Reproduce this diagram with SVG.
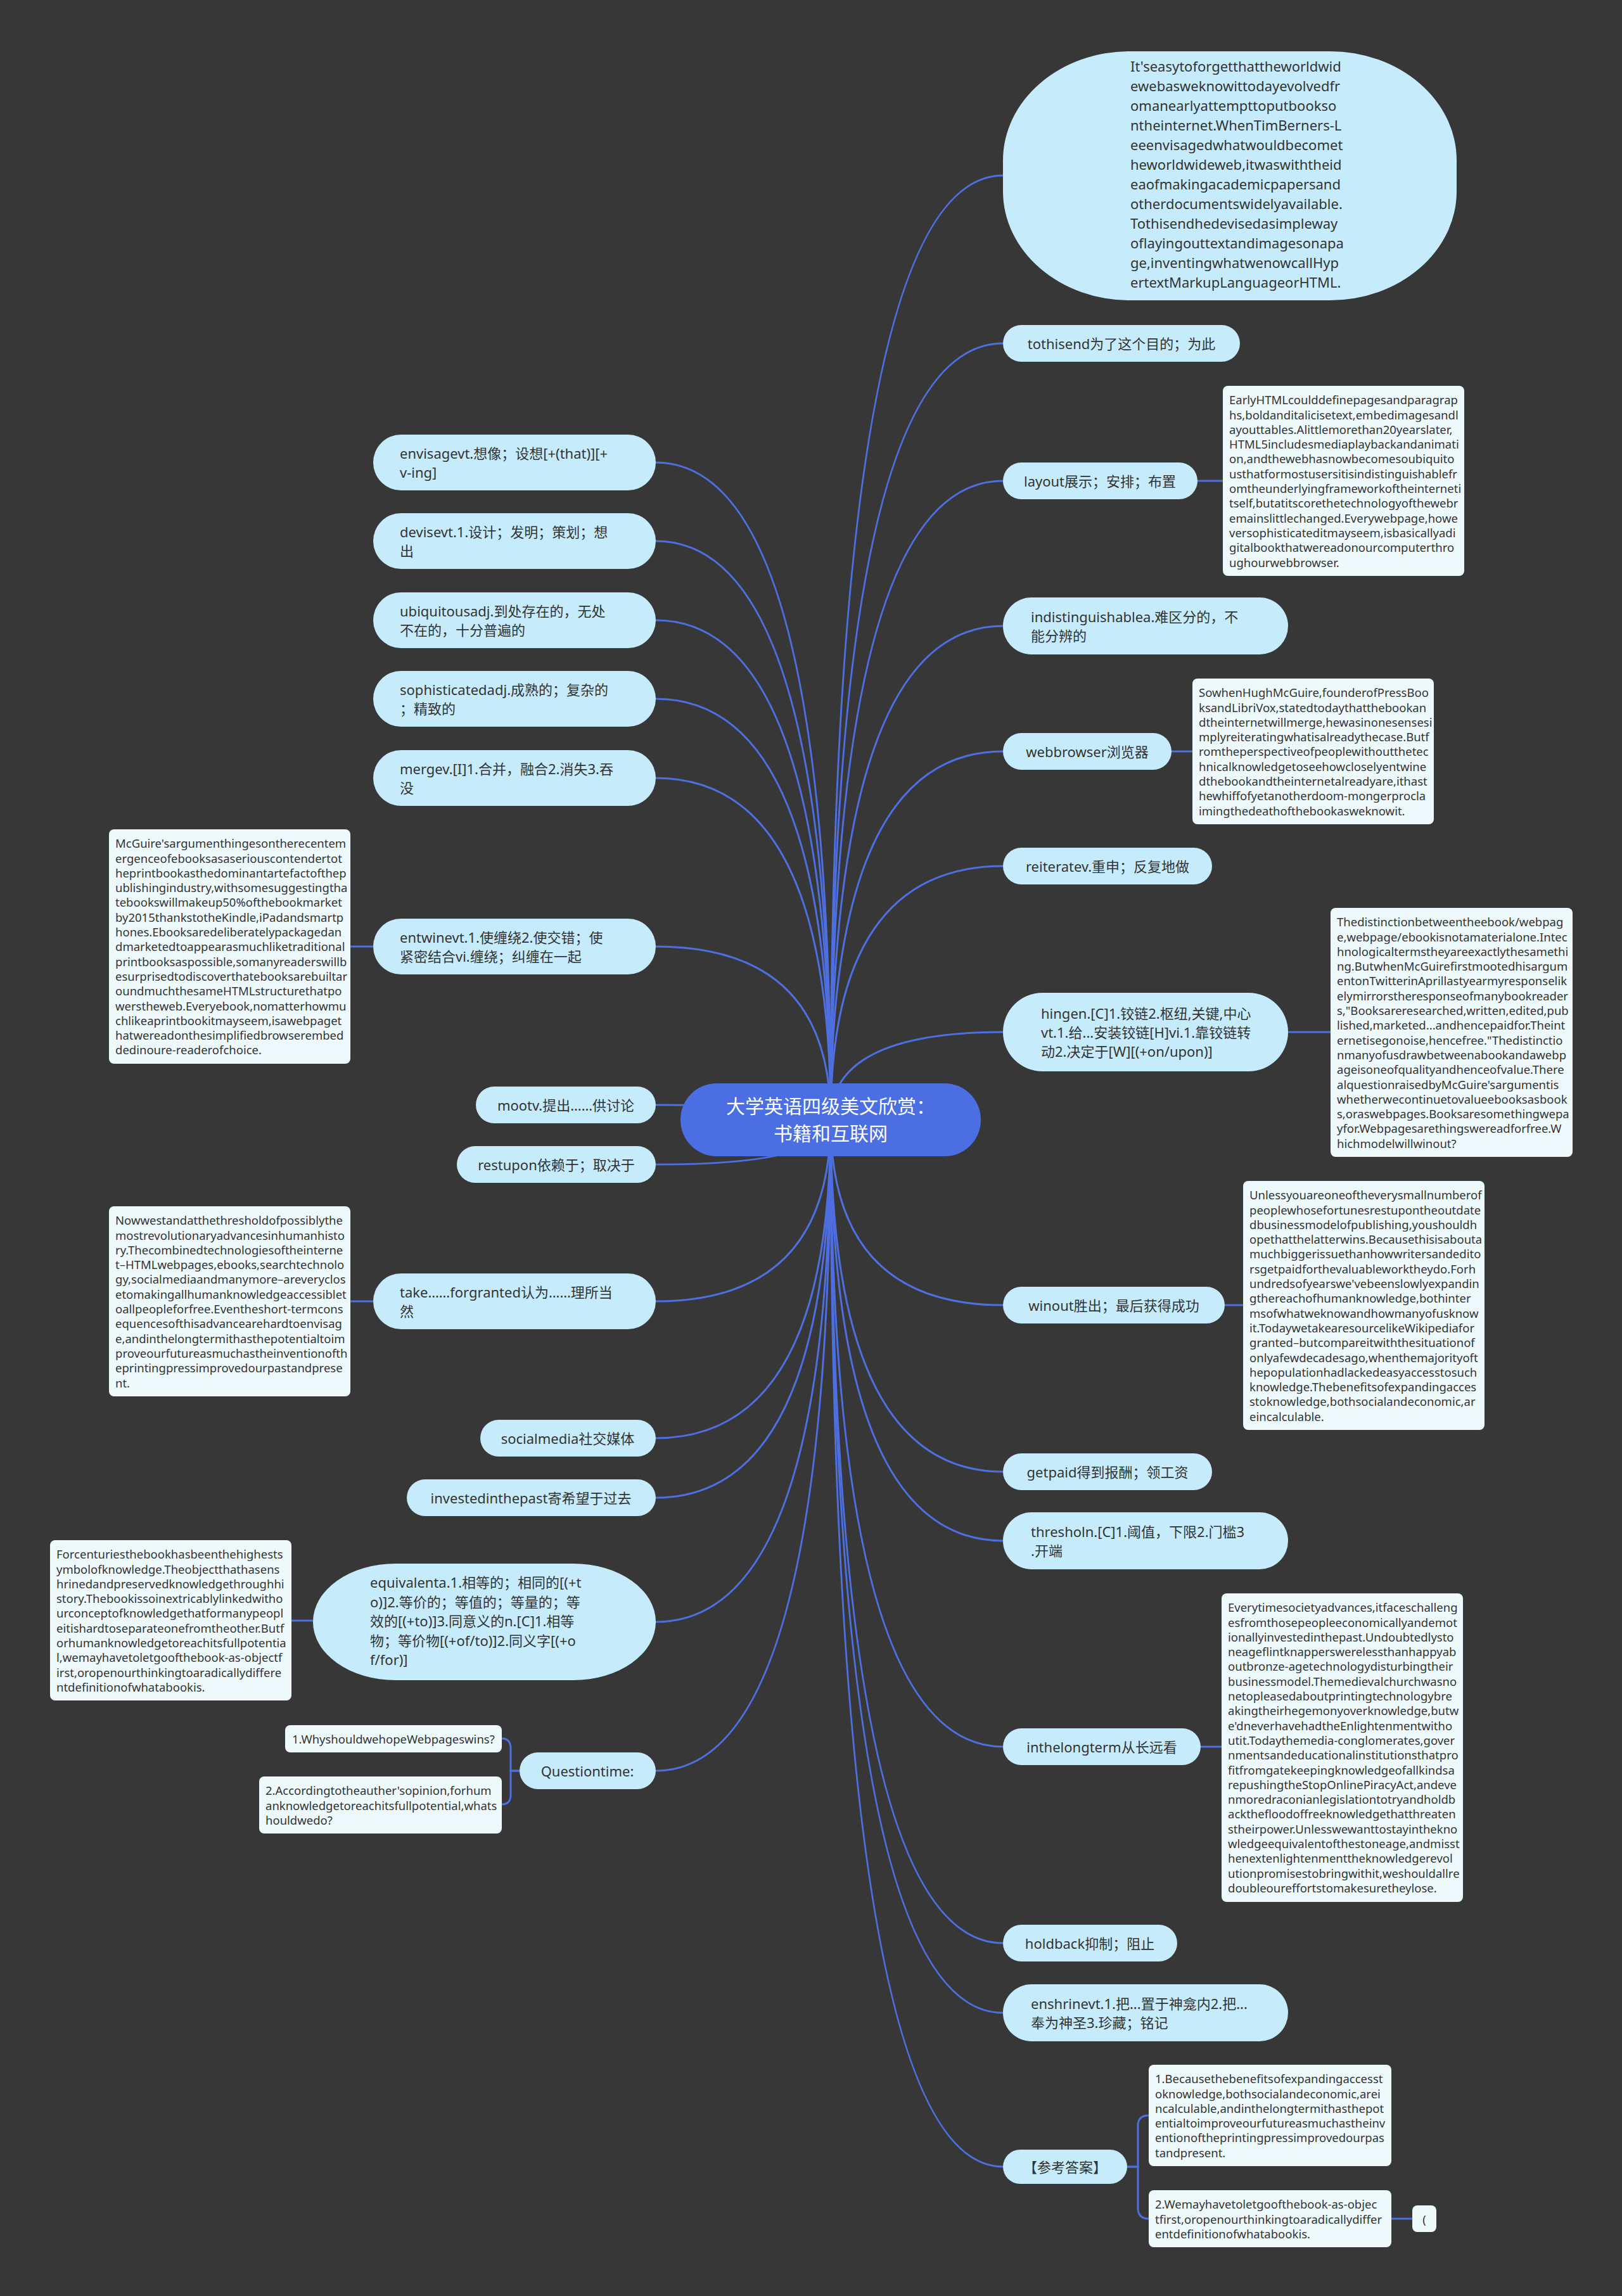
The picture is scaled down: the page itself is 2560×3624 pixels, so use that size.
<svg xmlns="http://www.w3.org/2000/svg" width="2560" height="3624" viewBox="0 0 2560 3624">
<style>
.bg{fill:#373737}
.ln{fill:none;stroke:#4d6fe0;stroke-width:3}
.nd{fill:#c6ecfb}
.nb{fill:#eef9fc}
.ct{fill:#4b6fe2}
text{font-family:"Noto Sans","Noto Sans CJK SC",sans-serif;fill:#333333;dominant-baseline:central}
.t{font-size:22px}
.n{font-size:18.5px}
.c{font-size:30px;fill:#ffffff;text-anchor:middle}
.m{text-anchor:middle}
</style>
<rect class="bg" x="0" y="0" width="2560" height="3624"/>
<g id="connectors">
<path class="ln" d="M1311 1767 Q1311 277 1583 277"/>
<path class="ln" d="M1311 1767 Q1311 542 1583 542"/>
<path class="ln" d="M1311 1767 Q1311 759 1583 759"/>
<path class="ln" d="M1311 1767 Q1311 988 1583 988"/>
<path class="ln" d="M1311 1767 Q1311 1186 1583 1186"/>
<path class="ln" d="M1311 1767 Q1311 1367 1583 1367"/>
<path class="ln" d="M1311 1767 Q1311 1629 1583 1629"/>
<path class="ln" d="M1311 1767 Q1311 2060 1583 2060"/>
<path class="ln" d="M1311 1767 Q1311 2323 1583 2323"/>
<path class="ln" d="M1311 1767 Q1311 2432 1583 2432"/>
<path class="ln" d="M1311 1767 Q1311 2757 1583 2757"/>
<path class="ln" d="M1311 1767 Q1311 3067 1583 3067"/>
<path class="ln" d="M1311 1767 Q1311 3177 1583 3177"/>
<path class="ln" d="M1311 1767 Q1311 3420 1583 3420"/>
<path class="ln" d="M1311 1767 Q1311 730 1035 730"/>
<path class="ln" d="M1311 1767 Q1311 854 1035 854"/>
<path class="ln" d="M1311 1767 Q1311 979 1035 979"/>
<path class="ln" d="M1311 1767 Q1311 1103 1035 1103"/>
<path class="ln" d="M1311 1767 Q1311 1228 1035 1228"/>
<path class="ln" d="M1311 1767 Q1311 1494 1035 1494"/>
<path class="ln" d="M1311 1767 Q1311 1744 1035 1744"/>
<path class="ln" d="M1311 1767 Q1311 1838 1035 1838"/>
<path class="ln" d="M1311 1767 Q1311 2054 1035 2054"/>
<path class="ln" d="M1311 1767 Q1311 2270 1035 2270"/>
<path class="ln" d="M1311 1767 Q1311 2364 1035 2364"/>
<path class="ln" d="M1311 1767 Q1311 2560 1035 2560"/>
<path class="ln" d="M1311 1767 Q1311 2795 1035 2795"/>
<path class="ln" d="M1890 759 H1930"/>
<path class="ln" d="M1849 1186 H1882"/>
<path class="ln" d="M2033 1629 H2100"/>
<path class="ln" d="M1933 2060 H1962"/>
<path class="ln" d="M1895 2757 H1928"/>
<path class="ln" d="M553 1494 H589"/>
<path class="ln" d="M553 2054 H589"/>
<path class="ln" d="M460 2558 H494"/>
<path class="ln" d="M820 2795 H806 V2760 Q806 2744 792 2744"/>
<path class="ln" d="M820 2795 H806 V2833 Q806 2848 792 2848"/>
<path class="ln" d="M1779 3420 H1796 V3355 Q1796 3339 1813 3339"/>
<path class="ln" d="M1779 3420 H1796 V3485 Q1796 3502 1813 3502"/>
<path class="ln" d="M2196 3502 H2229"/>
</g>
<g id="center">
<rect class="ct" x="1074" y="1710" width="474" height="115" rx="57"/>
<text class="c" x="1311" y="1745">大学英语四级美文欣赏：</text>
<text class="c" x="1311" y="1788">书籍和互联网</text>
</g>
<g id="r1">
<rect class="nd" x="1583" y="81" width="716" height="393" rx="200" ry="172"/>
<text class="t" x="1784" y="104">It'seasytoforgetthattheworldwid</text>
<text class="t" x="1784" y="135">ewebasweknowittodayevolvedfr</text>
<text class="t" x="1784" y="166">omanearlyattempttoputbookso</text>
<text class="t" x="1784" y="197">ntheinternet.WhenTimBerners-L</text>
<text class="t" x="1784" y="228">eeenvisagedwhatwouldbecomet</text>
<text class="t" x="1784" y="259">heworldwideweb,itwaswiththeid</text>
<text class="t" x="1784" y="290">eaofmakingacademicpapersand</text>
<text class="t" x="1784" y="321">otherdocumentswidelyavailable.</text>
<text class="t" x="1784" y="352">Tothisendhedevisedasimpleway</text>
<text class="t" x="1784" y="383">oflayingouttextandimagesonapa</text>
<text class="t" x="1784" y="414">ge,inventingwhatwenowcallHyp</text>
<text class="t" x="1784" y="445">ertextMarkupLanguageorHTML.</text>
</g>
<g id="r2">
<rect class="nd" x="1583" y="513" width="374" height="58" rx="29"/>
<text class="t m" x="1770" y="542">tothisend为了这个目的；为此</text>
</g>
<g id="r3">
<rect class="nd" x="1583" y="730" width="307" height="58" rx="29"/>
<text class="t m" x="1736" y="759">layout展示；安排；布置</text>
</g>
<g id="r3note">
<rect class="nb" x="1930" y="609" width="381" height="300" rx="8"/>
<text class="n" x="1940" y="630.7">EarlyHTMLcoulddefinepagesandparagrap</text>
<text class="n" x="1940" y="654">hs,boldanditalicisetext,embedimagesandl</text>
<text class="n" x="1940" y="677.3">ayouttables.Alittlemorethan20yearslater,</text>
<text class="n" x="1940" y="700.6">HTML5includesmediaplaybackandanimati</text>
<text class="n" x="1940" y="723.9">on,andthewebhasnowbecomesoubiquito</text>
<text class="n" x="1940" y="747.2">usthatformostusersitisindistinguishablefr</text>
<text class="n" x="1940" y="770.5">omtheunderlyingframeworkoftheinterneti</text>
<text class="n" x="1940" y="793.8">tself,butatitscorethetechnologyofthewebr</text>
<text class="n" x="1940" y="817.1">emainslittlechanged.Everywebpage,howe</text>
<text class="n" x="1940" y="840.4">versophisticateditmayseem,isbasicallyadi</text>
<text class="n" x="1940" y="863.7">gitalbookthatwereadonourcomputerthro</text>
<text class="n" x="1940" y="887">ughourwebbrowser.</text>
</g>
<g id="r4">
<rect class="nd" x="1583" y="943" width="450" height="90" rx="45"/>
<text class="t" x="1627" y="973">indistinguishablea.难区分的，不</text>
<text class="t" x="1627" y="1003">能分辨的</text>
</g>
<g id="r5">
<rect class="nd" x="1583" y="1157" width="266" height="58" rx="29"/>
<text class="t m" x="1716" y="1186">webbrowser浏览器</text>
</g>
<g id="r5note">
<rect class="nb" x="1882" y="1071" width="381" height="230" rx="8"/>
<text class="n" x="1892" y="1092.7">SowhenHughMcGuire,founderofPressBoo</text>
<text class="n" x="1892" y="1116">ksandLibriVox,statedtodaythatthebookan</text>
<text class="n" x="1892" y="1139.3">dtheinternetwillmerge,hewasinonesensesi</text>
<text class="n" x="1892" y="1162.6">mplyreiteratingwhatisalreadythecase.Butf</text>
<text class="n" x="1892" y="1185.9">romtheperspectiveofpeoplewithoutthetec</text>
<text class="n" x="1892" y="1209.2">hnicalknowledgetoseehowcloselyentwine</text>
<text class="n" x="1892" y="1232.5">dthebookandtheinternetalreadyare,ithast</text>
<text class="n" x="1892" y="1255.8">hewhiffofyetanotherdoom-mongerprocla</text>
<text class="n" x="1892" y="1279.1">imingthedeathofthebookasweknowit.</text>
</g>
<g id="r6">
<rect class="nd" x="1583" y="1338" width="330" height="58" rx="29"/>
<text class="t m" x="1748" y="1367">reiteratev.重申；反复地做</text>
</g>
<g id="r7">
<rect class="nd" x="1583" y="1567" width="450" height="124" rx="62"/>
<text class="t" x="1643" y="1599">hingen.[C]1.铰链2.枢纽,关键,中心</text>
<text class="t" x="1643" y="1629">vt.1.给...安装铰链[H]vi.1.靠铰链转</text>
<text class="t" x="1643" y="1659">动2.决定于[W][(+on/upon)]</text>
</g>
<g id="r7note">
<rect class="nb" x="2100" y="1433" width="382" height="393" rx="8"/>
<text class="n" x="2110" y="1454.7">Thedistinctionbetweentheebook/webpag</text>
<text class="n" x="2110" y="1478">e,webpage/ebookisnotamaterialone.Intec</text>
<text class="n" x="2110" y="1501.3">hnologicaltermstheyareexactlythesamethi</text>
<text class="n" x="2110" y="1524.6">ng.ButwhenMcGuirefirstmootedhisargum</text>
<text class="n" x="2110" y="1547.9">entonTwitterinAprillastyearmyresponselik</text>
<text class="n" x="2110" y="1571.2">elymirrorstheresponseofmanybookreader</text>
<text class="n" x="2110" y="1594.5">s,"Booksareresearched,written,edited,pub</text>
<text class="n" x="2110" y="1617.8">lished,marketed...andhencepaidfor.Theint</text>
<text class="n" x="2110" y="1641.1">ernetisegonoise,hencefree."Thedistinctio</text>
<text class="n" x="2110" y="1664.4">nmanyofusdrawbetweenabookandawebp</text>
<text class="n" x="2110" y="1687.7">ageisoneofqualityandhenceofvalue.There</text>
<text class="n" x="2110" y="1711">alquestionraisedbyMcGuire'sargumentis</text>
<text class="n" x="2110" y="1734.3">whetherwecontinuetovalueebooksasbook</text>
<text class="n" x="2110" y="1757.6">s,oraswebpages.Booksaresomethingwepa</text>
<text class="n" x="2110" y="1780.9">yfor.Webpagesarethingswereadforfree.W</text>
<text class="n" x="2110" y="1804.2">hichmodelwillwinout?</text>
</g>
<g id="r8">
<rect class="nd" x="1583" y="2031" width="350" height="58" rx="29"/>
<text class="t m" x="1758" y="2060">winout胜出；最后获得成功</text>
</g>
<g id="r8note">
<rect class="nb" x="1962" y="1864" width="381" height="393" rx="8"/>
<text class="n" x="1972" y="1885.7">Unlessyouareoneoftheverysmallnumberof</text>
<text class="n" x="1972" y="1909">peoplewhosefortunesrestupontheoutdate</text>
<text class="n" x="1972" y="1932.3">dbusinessmodelofpublishing,youshouldh</text>
<text class="n" x="1972" y="1955.6">opethatthelatterwins.Becausethisisabouta</text>
<text class="n" x="1972" y="1978.9">muchbiggerissuethanhowwritersandedito</text>
<text class="n" x="1972" y="2002.2">rsgetpaidforthevaluableworktheydo.Forh</text>
<text class="n" x="1972" y="2025.5">undredsofyearswe'vebeenslowlyexpandin</text>
<text class="n" x="1972" y="2048.8">gthereachofhumanknowledge,bothinter</text>
<text class="n" x="1972" y="2072.1">msofwhatweknowandhowmanyofusknow</text>
<text class="n" x="1972" y="2095.4">it.TodaywetakearesourcelikeWikipediafor</text>
<text class="n" x="1972" y="2118.7">granted–butcompareitwiththesituationof</text>
<text class="n" x="1972" y="2142">onlyafewdecadesago,whenthemajorityoft</text>
<text class="n" x="1972" y="2165.3">hepopulationhadlackedeasyaccesstosuch</text>
<text class="n" x="1972" y="2188.6">knowledge.Thebenefitsofexpandingacces</text>
<text class="n" x="1972" y="2211.9">stoknowledge,bothsocialandeconomic,ar</text>
<text class="n" x="1972" y="2235.2">eincalculable.</text>
</g>
<g id="r9">
<rect class="nd" x="1583" y="2294" width="330" height="58" rx="29"/>
<text class="t m" x="1748" y="2323">getpaid得到报酬；领工资</text>
</g>
<g id="r10">
<rect class="nd" x="1583" y="2387" width="450" height="90" rx="45"/>
<text class="t" x="1627" y="2417">thresholn.[C]1.阈值，下限2.门槛3</text>
<text class="t" x="1627" y="2447">.开端</text>
</g>
<g id="r11">
<rect class="nd" x="1583" y="2728" width="312" height="58" rx="29"/>
<text class="t m" x="1739" y="2757">inthelongterm从长远看</text>
</g>
<g id="r11note">
<rect class="nb" x="1928" y="2515" width="381" height="487" rx="8"/>
<text class="n" x="1938" y="2536.7">Everytimesocietyadvances,itfaceschalleng</text>
<text class="n" x="1938" y="2560">esfromthosepeopleeconomicallyandemot</text>
<text class="n" x="1938" y="2583.3">ionallyinvestedinthepast.Undoubtedlysto</text>
<text class="n" x="1938" y="2606.6">neageflintknapperswerelessthanhappyab</text>
<text class="n" x="1938" y="2629.9">outbronze-agetechnologydisturbingtheir</text>
<text class="n" x="1938" y="2653.2">businessmodel.Themedievalchurchwasno</text>
<text class="n" x="1938" y="2676.5">netopleasedaboutprintingtechnologybre</text>
<text class="n" x="1938" y="2699.8">akingtheirhegemonyoverknowledge,butw</text>
<text class="n" x="1938" y="2723.1">e'dneverhavehadtheEnlightenmentwitho</text>
<text class="n" x="1938" y="2746.4">utit.Todaythemedia-conglomerates,gover</text>
<text class="n" x="1938" y="2769.7">nmentsandeducationalinstitutionsthatpro</text>
<text class="n" x="1938" y="2793">fitfromgatekeepingknowledgeofallkindsa</text>
<text class="n" x="1938" y="2816.3">repushingtheStopOnlinePiracyAct,andeve</text>
<text class="n" x="1938" y="2839.6">nmoredraconianlegislationtotryandholdb</text>
<text class="n" x="1938" y="2862.9">ackthefloodoffreeknowledgethatthreaten</text>
<text class="n" x="1938" y="2886.2">stheirpower.Unlesswewanttostayinthekno</text>
<text class="n" x="1938" y="2909.5">wledgeequivalentofthestoneage,andmisst</text>
<text class="n" x="1938" y="2932.8">henextenlightenmenttheknowledgerevol</text>
<text class="n" x="1938" y="2956.1">utionpromisestobringwithit,weshouldallre</text>
<text class="n" x="1938" y="2979.4">doubleoureffortstomakesuretheylose.</text>
</g>
<g id="r12">
<rect class="nd" x="1583" y="3038" width="275" height="58" rx="29"/>
<text class="t m" x="1720" y="3067">holdback抑制；阻止</text>
</g>
<g id="r13">
<rect class="nd" x="1583" y="3132" width="450" height="90" rx="45"/>
<text class="t" x="1627" y="3162">enshrinevt.1.把...置于神龛内2.把...</text>
<text class="t" x="1627" y="3192">奉为神圣3.珍藏；铭记</text>
</g>
<g id="r14">
<rect class="nd" x="1583" y="3393" width="196" height="54" rx="27"/>
<text class="t m" x="1681" y="3420">【参考答案】</text>
</g>
<g id="ans1">
<rect class="nb" x="1813" y="3259" width="383" height="160" rx="8"/>
<text class="n" x="1823" y="3280.7">1.Becausethebenefitsofexpandingaccesst</text>
<text class="n" x="1823" y="3304">oknowledge,bothsocialandeconomic,arei</text>
<text class="n" x="1823" y="3327.3">ncalculable,andinthelongtermithasthepot</text>
<text class="n" x="1823" y="3350.6">entialtoimproveourfutureasmuchastheinv</text>
<text class="n" x="1823" y="3373.9">entionoftheprintingpressimprovedourpas</text>
<text class="n" x="1823" y="3397.2">tandpresent.</text>
</g>
<g id="ans2">
<rect class="nb" x="1813" y="3457" width="383" height="90" rx="8"/>
<text class="n" x="1823" y="3478.7">2.Wemayhavetoletgoofthebook-as-objec</text>
<text class="n" x="1823" y="3502">tfirst,oropenourthinkingtoaradicallydiffer</text>
<text class="n" x="1823" y="3525.3">entdefinitionofwhatabookis.</text>
</g>
<g id="ans3">
<rect class="nb" x="2229" y="3481" width="38" height="42" rx="8"/>
<text class="n m" x="2248" y="3502">(</text>
</g>
<g id="l1">
<rect class="nd" x="589" y="686" width="446" height="88" rx="44"/>
<text class="t" x="631" y="715">envisagevt.想像；设想[+(that)][+</text>
<text class="t" x="631" y="745">v-ing]</text>
</g>
<g id="l2">
<rect class="nd" x="589" y="810" width="446" height="88" rx="44"/>
<text class="t" x="631" y="839">devisevt.1.设计；发明；策划；想</text>
<text class="t" x="631" y="869">出</text>
</g>
<g id="l3">
<rect class="nd" x="589" y="935" width="446" height="88" rx="44"/>
<text class="t" x="631" y="964">ubiquitousadj.到处存在的，无处</text>
<text class="t" x="631" y="994">不在的，十分普遍的</text>
</g>
<g id="l4">
<rect class="nd" x="589" y="1059" width="446" height="88" rx="44"/>
<text class="t" x="631" y="1088">sophisticatedadj.成熟的；复杂的</text>
<text class="t" x="631" y="1118">；精致的</text>
</g>
<g id="l5">
<rect class="nd" x="589" y="1184" width="446" height="88" rx="44"/>
<text class="t" x="631" y="1213">mergev.[I]1.合并，融合2.消失3.吞</text>
<text class="t" x="631" y="1243">没</text>
</g>
<g id="l6">
<rect class="nd" x="589" y="1450" width="446" height="88" rx="44"/>
<text class="t" x="631" y="1479">entwinevt.1.使缠绕2.使交错；使</text>
<text class="t" x="631" y="1509">紧密结合vi.缠绕；纠缠在一起</text>
</g>
<g id="l6note">
<rect class="nb" x="172" y="1309" width="381" height="370" rx="8"/>
<text class="n" x="182" y="1330.7">McGuire'sargumenthingesontherecentem</text>
<text class="n" x="182" y="1354">ergenceofebooksasaseriouscontendertot</text>
<text class="n" x="182" y="1377.3">heprintbookasthedominantartefactofthep</text>
<text class="n" x="182" y="1400.6">ublishingindustry,withsomesuggestingtha</text>
<text class="n" x="182" y="1423.9">tebookswillmakeup50%ofthebookmarket</text>
<text class="n" x="182" y="1447.2">by2015thankstotheKindle,iPadandsmartp</text>
<text class="n" x="182" y="1470.5">hones.Ebooksaredeliberatelypackagedan</text>
<text class="n" x="182" y="1493.8">dmarketedtoappearasmuchliketraditional</text>
<text class="n" x="182" y="1517.1">printbooksaspossible,somanyreaderswillb</text>
<text class="n" x="182" y="1540.4">esurprisedtodiscoverthatebooksarebuiltar</text>
<text class="n" x="182" y="1563.7">oundmuchthesameHTMLstructurethatpo</text>
<text class="n" x="182" y="1587">werstheweb.Everyebook,nomatterhowmu</text>
<text class="n" x="182" y="1610.3">chlikeaprintbookitmayseem,isawebpaget</text>
<text class="n" x="182" y="1633.6">hatwereadonthesimplifiedbrowserembed</text>
<text class="n" x="182" y="1656.9">dedinoure-readerofchoice.</text>
</g>
<g id="l7">
<rect class="nd" x="751" y="1715" width="284" height="58" rx="29"/>
<text class="t m" x="893" y="1744">mootv.提出……供讨论</text>
</g>
<g id="l8">
<rect class="nd" x="721" y="1809" width="314" height="58" rx="29"/>
<text class="t m" x="878" y="1838">restupon依赖于；取决于</text>
</g>
<g id="l9">
<rect class="nd" x="589" y="2010" width="446" height="88" rx="44"/>
<text class="t" x="631" y="2039">take……forgranted认为……理所当</text>
<text class="t" x="631" y="2069">然</text>
</g>
<g id="l9note">
<rect class="nb" x="172" y="1904" width="381" height="300" rx="8"/>
<text class="n" x="182" y="1925.7">Nowwestandatthethresholdofpossiblythe</text>
<text class="n" x="182" y="1949">mostrevolutionaryadvancesinhumanhisto</text>
<text class="n" x="182" y="1972.3">ry.Thecombinedtechnologiesoftheinterne</text>
<text class="n" x="182" y="1995.6">t–HTMLwebpages,ebooks,searchtechnolo</text>
<text class="n" x="182" y="2018.9">gy,socialmediaandmanymore–areveryclos</text>
<text class="n" x="182" y="2042.2">etomakingallhumanknowledgeaccessiblet</text>
<text class="n" x="182" y="2065.5">oallpeopleforfree.Eventheshort-termcons</text>
<text class="n" x="182" y="2088.8">equencesofthisadvancearehardtoenvisag</text>
<text class="n" x="182" y="2112.1">e,andinthelongtermithasthepotentialtoim</text>
<text class="n" x="182" y="2135.4">proveourfutureasmuchastheinventionofth</text>
<text class="n" x="182" y="2158.7">eprintingpressimprovedourpastandprese</text>
<text class="n" x="182" y="2182">nt.</text>
</g>
<g id="l10">
<rect class="nd" x="758" y="2241" width="277" height="58" rx="29"/>
<text class="t m" x="896" y="2270">socialmedia社交媒体</text>
</g>
<g id="l11">
<rect class="nd" x="642" y="2335" width="393" height="58" rx="29"/>
<text class="t m" x="838" y="2364">investedinthepast寄希望于过去</text>
</g>
<g id="l12">
<rect class="nd" x="494" y="2468" width="541" height="184" rx="130" ry="92"/>
<text class="t" x="584" y="2497">equivalenta.1.相等的；相同的[(+t</text>
<text class="t" x="584" y="2527.5">o)]2.等价的；等值的；等量的；等</text>
<text class="t" x="584" y="2558">效的[(+to)]3.同意义的n.[C]1.相等</text>
<text class="t" x="584" y="2588.5">物；等价物[(+of/to)]2.同义字[(+o</text>
<text class="t" x="584" y="2619">f/for)]</text>
</g>
<g id="l12note">
<rect class="nb" x="79" y="2431" width="381" height="253" rx="8"/>
<text class="n" x="89" y="2452.7">Forcenturiesthebookhasbeenthehighests</text>
<text class="n" x="89" y="2476">ymbolofknowledge.Theobjectthathasens</text>
<text class="n" x="89" y="2499.3">hrinedandpreservedknowledgethroughhi</text>
<text class="n" x="89" y="2522.6">story.Thebookissoinextricablylinkedwitho</text>
<text class="n" x="89" y="2545.9">urconceptofknowledgethatformanypeopl</text>
<text class="n" x="89" y="2569.2">eitishardtoseparateonefromtheother.Butf</text>
<text class="n" x="89" y="2592.5">orhumanknowledgetoreachitsfullpotentia</text>
<text class="n" x="89" y="2615.8">l,wemayhavetoletgoofthebook-as-objectf</text>
<text class="n" x="89" y="2639.1">irst,oropenourthinkingtoaradicallydiffere</text>
<text class="n" x="89" y="2662.4">ntdefinitionofwhatabookis.</text>
</g>
<g id="l13">
<rect class="nd" x="820" y="2766" width="215" height="58" rx="29"/>
<text class="t m" x="927" y="2795">Questiontime:</text>
</g>
<g id="q1">
<rect class="nb" x="450" y="2723" width="342" height="43" rx="8"/>
<text class="n" x="461" y="2744.5">1.WhyshouldwehopeWebpageswins?</text>
</g>
<g id="q2">
<rect class="nb" x="409" y="2804" width="383" height="90" rx="8"/>
<text class="n" x="419" y="2825.7">2.Accordingtotheauther'sopinion,forhum</text>
<text class="n" x="419" y="2849">anknowledgetoreachitsfullpotential,whats</text>
<text class="n" x="419" y="2872.3">houldwedo?</text>
</g>
</svg>
